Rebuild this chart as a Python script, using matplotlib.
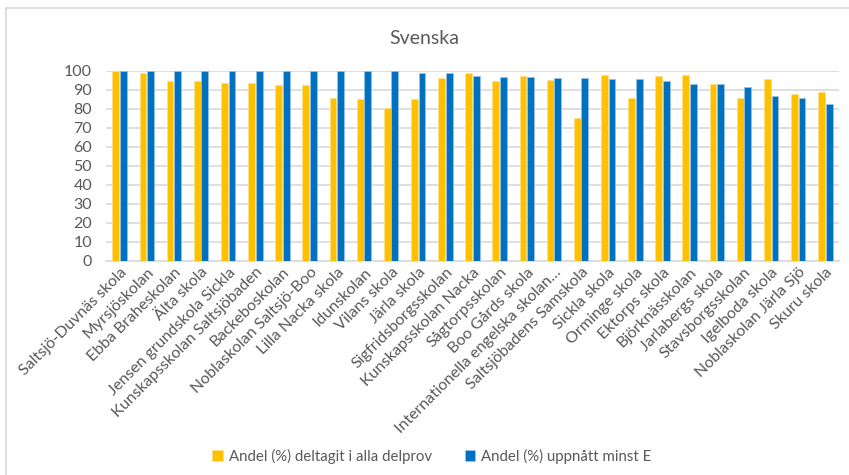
import numpy as np
import matplotlib
matplotlib.use('Agg')
from matplotlib import pyplot as plt
from matplotlib.patches import Rectangle

plt.rcParams['font.family'] = ['Lato', 'DejaVu Sans']

schools = [
    'Saltsjö-Duvnäs skola', 'Myrsjöskolan', 'Ebba Braheskolan', 'Älta skola',
    'Jensen grundskola Sickla', 'Kunskapsskolan Saltsjöbaden', 'Backeboskolan',
    'Noblaskolan Saltsjö-Boo', 'Lilla Nacka skola', 'Idunskolan', 'Vilans skola',
    'Järla skola', 'Sigfridsborgsskolan', 'Kunskapsskolan Nacka', 'Sågtorpsskolan',
    'Boo Gårds skola', 'Internationella engelska skolan…', 'Saltsjöbadens Samskola',
    'Sickla skola', 'Orminge skola', 'Ektorps skola', 'Björknässkolan',
    'Jarlabergs skola', 'Stavsborgsskolan', 'Igelboda skola', 'Noblaskolan Järla Sjö',
    'Skuru skola',
]

deltagit = [100, 98.8, 94.7, 94.7, 93.7, 93.7, 92.4, 92.4, 85.6, 85.1, 80.5,
            85.1, 96.3, 98.8, 94.7, 97.4, 95.1, 75.4, 97.9, 85.9, 97.4, 97.9,
            93.3, 85.6, 95.6, 87.9, 89.1]
minst_e = [100, 100, 100, 100, 100, 100, 100, 100, 100, 100, 100,
           99.1, 98.8, 97.4, 96.8, 96.8, 96.5, 96.5, 95.6, 95.6, 94.7, 93.3,
           93.0, 91.6, 87.0, 85.9, 82.4]

label_a = 'Andel (%) deltagit i alla delprov'
label_b = 'Andel (%) uppnått minst E'

gray = '#595959'
grid = '#D9D9D9'

fig = plt.figure(figsize=(8.49, 4.75), dpi=100)
ax = fig.add_axes([106/849, 1 - 260.5/475, (839 - 106)/849, (260.5 - 71)/475])

x = np.arange(len(schools))
w = 0.25
ax.bar(x - 0.14, deltagit, w, color='#FFC000', edgecolor='#FFE08A', linewidth=0.5,
       label=label_a, zorder=3)
ax.bar(x + 0.14, minst_e, w, color='#0070C0', edgecolor='#9CC3E5', linewidth=0.5,
       label=label_b, zorder=3)

ax.set_xlim(-0.5, len(schools) - 0.5)
ax.set_ylim(0, 100)
ax.set_yticks(range(0, 101, 10))
ax.yaxis.grid(True, color=grid, linewidth=1.2, zorder=0)
for s in ['top', 'right', 'left']:
    ax.spines[s].set_visible(False)
ax.spines['bottom'].set_color(grid)
ax.spines['bottom'].set_linewidth(1.2)
ax.tick_params(axis='both', length=0, colors=gray, labelsize=11.5)
ax.tick_params(axis='y', pad=10)
ax.set_xticks(x)
ax.set_xticklabels(schools, rotation=45, ha='right', rotation_mode='anchor')

fig.text(0.5, 1 - 38/475, 'Svenska', ha='center', va='center', fontsize=14, color=gray)

fig.legend(loc='center', bbox_to_anchor=(432/849, 1 - 456/475), ncol=2, frameon=False,
           fontsize=10.8, labelcolor=gray, handlelength=0.7, handleheight=0.7,
           handletextpad=0.4, columnspacing=2.2)

fig.patches.append(Rectangle((6/849, -0.1), 1.1, 1 + 0.1 - 8/475,
                             transform=fig.transFigure, fill=False,
                             edgecolor='#D9D9D9', linewidth=1.2))

fig.savefig('out.png', dpi=100)
